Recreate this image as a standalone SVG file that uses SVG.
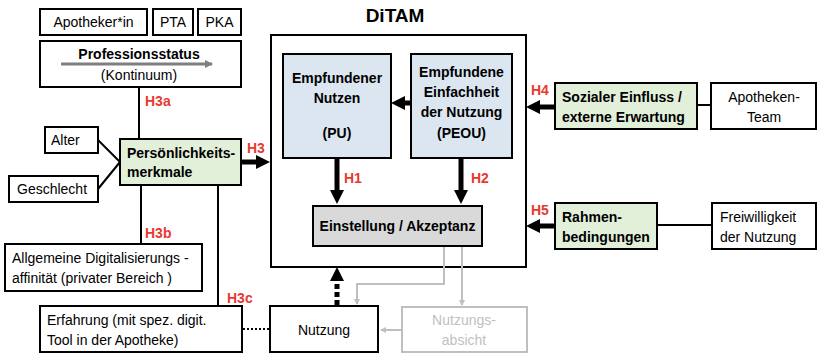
<svg xmlns="http://www.w3.org/2000/svg" width="818" height="355" viewBox="0 0 818 355">
<style>
text{font-family:"Liberation Sans",Arial,sans-serif;font-size:14px;fill:#000}
.b{font-weight:bold}
.c{text-anchor:middle}
.h{fill:#e8392f;font-weight:bold;font-size:14px}
.g{fill:#bfbfbf}
.box{fill:#fff;stroke:#000;stroke-width:2}
.frame{fill:none;stroke:#000;stroke-width:2}
.grn{fill:#e2efd9;stroke:#000;stroke-width:2}
.blu{fill:#dce6f1;stroke:#000;stroke-width:2}
.gry{fill:#d9d9d9;stroke:#000;stroke-width:2}
.ln{stroke:#000;stroke-width:2;fill:none}
.thick{stroke:#000;stroke-width:5;fill:none}
.gl{stroke:#bfbfbf;stroke-width:2;fill:none}
</style>
<defs>
<marker id="ah" markerWidth="14" markerHeight="14" refX="6" refY="7" orient="auto" markerUnits="userSpaceOnUse"><path d="M0,0L14,7L0,14z" fill="#000"/></marker>
<marker id="ahg" markerWidth="6" markerHeight="6" refX="5" refY="3" orient="auto" markerUnits="userSpaceOnUse"><path d="M0,0L6,3L0,6z" fill="#bfbfbf"/></marker>
<marker id="ahgr" markerWidth="8" markerHeight="8" refX="7" refY="4" orient="auto" markerUnits="userSpaceOnUse"><path d="M0,0L8,4L0,8z" fill="#7f7f7f"/></marker>
</defs>

<text class="b c" x="395" y="22" style="font-size:19px">DiTAM</text>

<g id="ditam"><rect class="frame" x="271" y="35" width="255" height="232"/></g>

<g id="connectors">
<line class="ln" x1="139" y1="87" x2="139" y2="139"/>
<line class="ln" x1="141" y1="185" x2="141" y2="244"/>
<line class="ln" x1="218" y1="185" x2="218" y2="306"/>
<line class="ln" x1="98" y1="140" x2="120" y2="162"/>
<line class="ln" x1="98" y1="189" x2="120" y2="162"/>
<line class="thick" x1="241" y1="162" x2="262" y2="162" marker-end="url(#ah)"/>
<line class="thick" x1="411" y1="103" x2="399" y2="103" marker-end="url(#ah)"/>
<line class="thick" x1="337" y1="158" x2="337" y2="196" marker-end="url(#ah)"/>
<line class="thick" x1="461" y1="158" x2="461" y2="196" marker-end="url(#ah)"/>
<line class="thick" x1="555" y1="107" x2="534" y2="107" marker-end="url(#ah)"/>
<line class="thick" x1="555" y1="226" x2="534" y2="226" marker-end="url(#ah)"/>
<line class="ln" x1="697" y1="105" x2="711" y2="105"/>
<line class="ln" x1="657" y1="225" x2="712" y2="225"/>
<line x1="337" y1="305" x2="337" y2="275" stroke="#000" stroke-width="5" stroke-dasharray="5,3" marker-end="url(#ah)"/>
<line x1="243" y1="329" x2="269" y2="329" stroke="#000" stroke-width="2" stroke-dasharray="2,2"/>
<polyline class="gl" points="444,247 444,284 357,284 357,304" marker-end="url(#ahg)"/>
<polyline class="gl" points="462,247 462,305" marker-end="url(#ahg)"/>
<line class="gl" x1="402" y1="330" x2="381" y2="330" marker-end="url(#ahg)"/>
<text class="h" x="145" y="106">H3a</text>
<text class="h" x="145" y="238">H3b</text>
<text class="h" x="227" y="303">H3c</text>
<text class="h" x="247" y="153">H3</text>
<text class="h" x="344" y="183">H1</text>
<text class="h" x="471" y="183">H2</text>
<text class="h" x="531" y="95">H4</text>
<text class="h" x="531" y="215">H5</text>
</g>

<g id="apotheker"><rect class="box" x="40" y="9" width="107" height="26"/><text class="c" x="93.5" y="27">Apotheker*in</text></g>
<g id="pta"><rect class="box" x="153" y="9" width="40" height="26"/><text class="c" x="173" y="27">PTA</text></g>
<g id="pka"><rect class="box" x="198" y="9" width="43" height="26"/><text class="c" x="219.5" y="27">PKA</text></g>
<g id="professionsstatus"><rect class="box" x="40" y="41" width="201" height="46"/>
<line x1="61" y1="64" x2="212" y2="64" stroke="#7f7f7f" stroke-width="3" marker-end="url(#ahgr)"/>
<text class="b c" x="139" y="59">Professionsstatus</text><text class="c" x="139" y="80">(Kontinuum)</text></g>
<g id="alter"><rect class="box" x="45" y="127" width="53" height="26"/><text x="51" y="145">Alter</text></g>
<g id="geschlecht"><rect class="box" x="9" y="176" width="89" height="26"/><text x="17" y="194">Geschlecht</text></g>
<g id="persoenlichkeit"><rect class="grn" x="120" y="139" width="121" height="46"/><text class="b" x="127" y="158">Persönlichkeits-</text><text class="b" x="127" y="177">merkmale</text></g>
<g id="allgemeine"><rect class="box" x="5" y="244" width="197" height="47"/><text x="12" y="263">Allgemeine Digitalisierungs -</text><text x="12" y="283">affinität (privater Bereich )</text></g>
<g id="erfahrung"><rect class="box" x="40" y="306" width="202" height="46"/><text x="47" y="325">Erfahrung (mit spez. digit.</text><text x="47" y="345">Tool in der Apotheke)</text></g>
<g id="nutzung"><rect class="box" x="270" y="306" width="108" height="46"/><text class="c" x="324" y="335">Nutzung</text></g>
<g id="nutzungsabsicht"><rect x="402" y="307" width="125" height="45" fill="#fff" stroke="#bfbfbf" stroke-width="2"/><text class="c g" x="464" y="325">Nutzungs-</text><text class="c g" x="464" y="345">absicht</text></g>
<g id="pu"><rect class="blu" x="283" y="54" width="108" height="104"/><text class="b c" x="337" y="83">Empfundener</text><text class="b c" x="337" y="103">Nutzen</text><text class="b c" x="337" y="138">(PU)</text></g>
<g id="peou"><rect class="blu" x="411" y="54" width="101" height="104"/><text class="b c" x="461.5" y="77">Empfundene</text><text class="b c" x="461.5" y="97">Einfachheit</text><text class="b c" x="461.5" y="117">der Nutzung</text><text class="b c" x="461.5" y="138">(PEOU)</text></g>
<g id="einstellung"><rect class="gry" x="313" y="206" width="169" height="40"/><text class="b c" x="397.5" y="231">Einstellung / Akzeptanz</text></g>
<g id="sozialer"><rect class="grn" x="555" y="83" width="142" height="46"/><text class="b" x="562" y="102">Sozialer Einfluss /</text><text class="b" x="562" y="122">externe Erwartung</text></g>
<g id="apothekenteam"><rect class="box" x="711" y="83" width="105" height="46"/><text class="c" x="764" y="102">Apotheken-</text><text class="c" x="764" y="122">Team</text></g>
<g id="rahmen"><rect class="grn" x="555" y="203" width="102" height="46"/><text class="b" x="562" y="222">Rahmen-</text><text class="b" x="562" y="242">bedingungen</text></g>
<g id="freiwilligkeit"><rect class="box" x="712" y="203" width="104" height="46"/><text x="720" y="222">Freiwilligkeit</text><text x="720" y="242">der Nutzung</text></g>
</svg>
